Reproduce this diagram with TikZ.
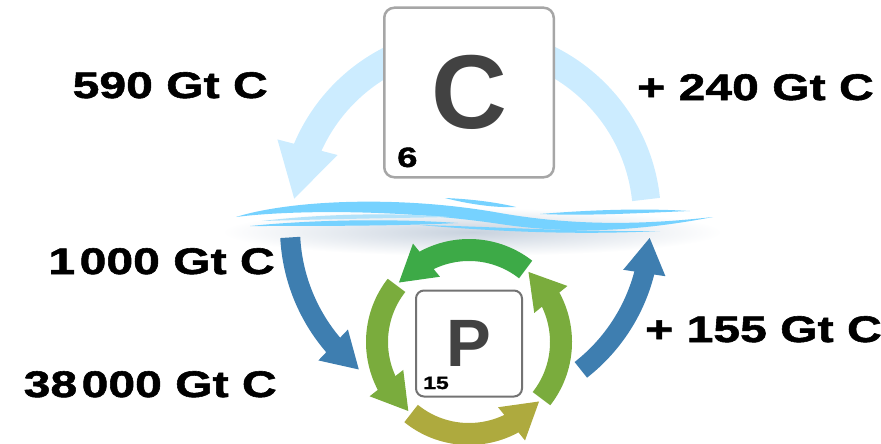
\documentclass[tikz,border=0pt]{standalone}
\usepackage{fontspec}
\setmainfont{Liberation Sans}
\newfontfamily\widesans[FakeStretch=1.3,FakeBold=1.5]{Liberation Sans}
\usetikzlibrary{arrows.meta,bending}

\definecolor{skyblue}{RGB}{204,236,255}
\definecolor{deepblue}{RGB}{62,126,176}
\definecolor{leafgreen}{RGB}{61,170,71}
\definecolor{grassgreen}{RGB}{122,172,61}
\definecolor{olivegreen}{RGB}{174,170,62}
\definecolor{wavecyan}{RGB}{118,210,255}
\definecolor{wavepale}{RGB}{178,226,250}
\definecolor{haze}{RGB}{200,210,222}
\definecolor{symgray}{RGB}{66,66,66}

\begin{document}
\begin{tikzpicture}[x=1pt,y=-1pt]
      \tikzstyle{amount} = [font=\widesans\bfseries\fontsize{37}{40}\selectfont, inner sep=0pt]
      \tikzstyle{tile} = [draw=black!35, fill=white, rounded corners=10pt, line width=2.5pt]
      \tikzstyle{skyarrow} = [draw=skyblue, line width=28pt, -{Triangle[width=58pt,length=54pt]}]
      \tikzstyle{seaarrow} = [draw=deepblue, line width=20pt, -{Triangle[width=40pt,length=36pt]}]
      \tikzstyle{ringarrow} = [line width=22pt, -{Triangle[width=40pt,length=36pt]}]
      \useasboundingbox (0,0) rectangle (881,444);

      \coordinate (air) at (470,218);
      \coordinate (sea) at (470,228);
      \coordinate (cell) at (469,342);

      % soft shadow under the water line
      \shade[inner color=haze, outer color=white] (472,232) ellipse [x radius=250, y radius=24];

      % air <-> ocean
      \draw[skyarrow] (air) ++(-6:177) arc[start angle=-6, end angle=-174, radius=177];
      \draw[seaarrow] (sea) ++(-183:180) arc[start angle=-183, end angle=-232, radius=180];
      \draw[seaarrow] (sea) ++(-308:180) arc[start angle=-308, end angle=-357, radius=180];

      % water surface
      \fill[wavecyan] (236,217) .. controls (290,200) and (400,195) .. (500,213)
            .. controls (580,227) and (650,224) .. (713,217)
            .. controls (650,229) and (580,236) .. (500,224)
            .. controls (400,209) and (290,210) .. (236,217) -- cycle;
      \fill[wavecyan] (445,198) .. controls (470,199) and (495,202) .. (516,207)
            .. controls (495,208) and (468,204) .. (445,198) -- cycle;
      \fill[wavecyan] (540,214) .. controls (590,210) and (640,208) .. (690,211)
            .. controls (640,213) and (590,216) .. (540,214) -- cycle;
      \fill[wavepale] (262,221) .. controls (330,213) and (400,213) .. (450,217)
            .. controls (400,218) and (330,219) .. (262,221) -- cycle;
      \fill[wavecyan] (250,226) .. controls (320,219) and (400,219) .. (458,223)
            .. controls (400,226) and (320,226) .. (250,226) -- cycle;
      \fill[wavecyan] (420,225) .. controls (500,227) and (580,232) .. (660,231)
            .. controls (580,235) and (500,232) .. (420,225) -- cycle;

      % phosphorus cycle
      \draw[ringarrow, draw=leafgreen] (cell) ++(-52:92) arc[start angle=-52, end angle=-140, radius=92];
      \draw[ringarrow, draw=grassgreen] (cell) ++(-142:92) arc[start angle=-142, end angle=-229, radius=92];
      \draw[ringarrow, draw=olivegreen] (cell) ++(-231:92) arc[start angle=-231, end angle=-320, radius=92];
      \draw[ringarrow, draw=grassgreen] (cell) ++(-322:92) arc[start angle=-322, end angle=-410, radius=92];

      % element tiles
      \node[tile, minimum size=169.5pt] (ctile) at (469,92.5) {};
      \node[font=\bfseries\fontsize{105}{105}\selectfont, text=symgray, inner sep=0pt] (csym) at (ctile.center) {C};
      \node[font=\widesans\bfseries\fontsize{28}{30}\selectfont, anchor=base west, inner sep=0pt] (cnum) at (397,167) {6};

      \node[tile, draw=black!55, line width=2pt, rounded corners=8pt, minimum size=106pt] (ptile) at (469,343.5) {};
      \node[font=\bfseries\fontsize{67}{67}\selectfont, text=symgray, inner sep=0pt] (psym) at (ptile.center) {P};
      \node[font=\widesans\bfseries\fontsize{17.7}{19}\selectfont, anchor=base west, inner sep=0pt] (pnum) at (423,389) {15};

      % carbon amounts
      \node[amount, anchor=base east] (airc) at (268,98) {590 Gt C};
      \node[amount, anchor=base west] (airgain) at (637,100) {+ 240 Gt C};
      \node[amount, anchor=base east] (topc) at (275,274) {1\hspace{0.12em}000 Gt C};
      \node[amount, anchor=base east] (deepc) at (277,397) {38\hspace{0.12em}000 Gt C};
      \node[amount, anchor=base west] (seagain) at (645,342) {+ 155 Gt C};
\end{tikzpicture}
\end{document}
